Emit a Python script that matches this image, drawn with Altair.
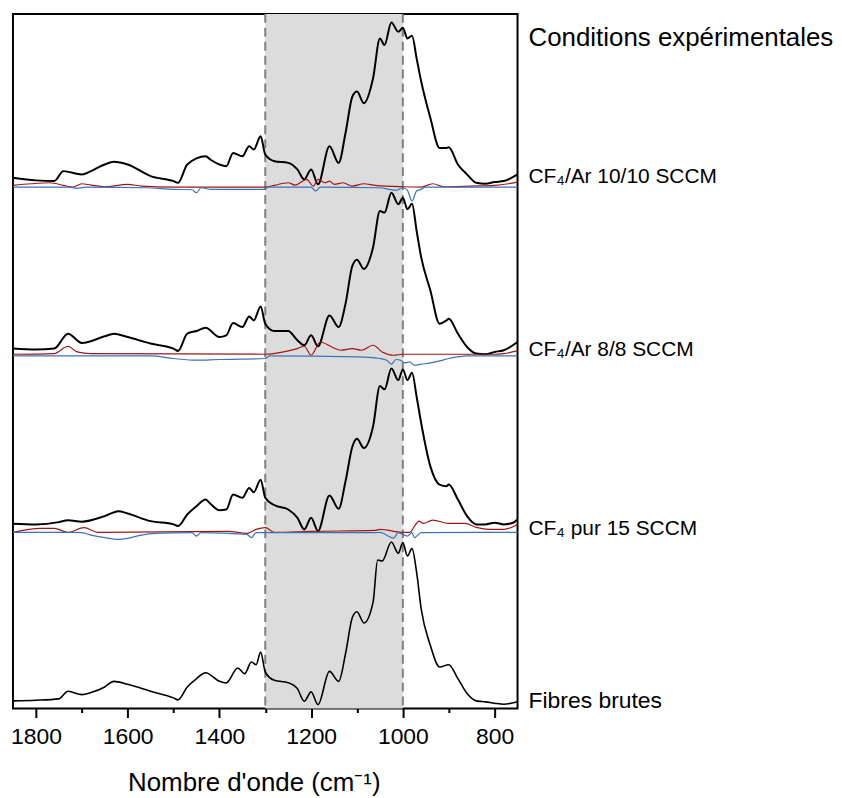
import altair as alt
import pandas as pd

# ---- Spectra (stacked, arbitrary absorbance units with offsets) ----
WN_S1 = [1850,1800,1760,1740,1700,1680,1650,1630,1600,1550,1500,1490,1470,1430,1420,1400,1385,1370,1350,1335,
         1325,1310,1300,1280,1250,1230,1215,1200,1185,1160,1140,1125,1110,1100,1085,1065,1050,1040,1025,1010,
         1000,990,980,970,960,940,920,905,900,880,860,840,820,800,780,750]
S1 = [533.3,530.7,530,540,536.7,540,546.7,549.3,546.7,535,530,528.3,546.7,555,551.7,546.7,545,558.3,555,565,
      561.7,575,556.7,550,548.3,541.7,531.7,541.7,526.7,565,548.3,578.3,615,620,608.3,633.3,673.3,666.7,689.3,680,
      684,673.3,676,653.3,630,593.3,563.3,563.3,564,546.7,536.7,528.3,527.3,529,530,536.7]

WN_S2 = [1850,1800,1760,1730,1700,1650,1630,1600,1550,1500,1490,1470,1450,1430,1400,1385,1370,1350,1335,1325,
         1310,1300,1280,1250,1230,1215,1200,1185,1160,1140,1125,1110,1100,1085,1065,1050,1040,1025,1010,1000,
         990,980,970,960,940,920,905,900,880,860,840,820,800,780,750]
S2 = [361.7,360.7,361.7,376.7,367.3,374,376.7,373.3,366.7,361.7,359.3,376.7,379.3,382.7,373.3,375,387.3,383.3,394,390,
      404,386.7,379.3,379.3,370,365,375,364,395,383.3,406.7,445,451,441.7,463.3,500,498.3,518.3,506.7,513.3,
      501.7,507.3,480,453.3,420,386.7,390,391.7,376.7,363.3,356.7,356,358.3,360,368.3]

WN_S3 = [1850,1800,1750,1730,1700,1650,1620,1600,1550,1500,1490,1470,1450,1430,1420,1400,1385,1370,1350,1335,
         1325,1310,1300,1280,1250,1230,1215,1200,1185,1160,1140,1125,1110,1100,1085,1065,1050,1040,1025,1010,
         1000,990,980,970,960,940,920,905,900,880,860,840,820,800,780,760,750]
S3 = [185.7,185,187.3,189.3,187.7,193.3,198.3,196,188.3,185,183.3,195,203.3,210,206,199.3,200,215,211.7,221.7,
      217.3,230,211.7,204.3,200,191.7,180,191.7,178.3,214,200.7,228.3,263.3,271,261.7,283.3,324,320.7,341.7,330,
      340.7,330,337.3,313.3,286.7,243.3,225,223.3,225,210,193.3,185,185,186.7,185,186.7,190]

WN_S4 = [1850,1800,1750,1730,1700,1680,1650,1630,1600,1550,1500,1490,1470,1450,1430,1400,1385,1360,1345,1330,
         1320,1310,1300,1280,1250,1230,1215,1200,1185,1160,1140,1125,1110,1100,1085,1065,1055,1045,1025,1010,
         1000,990,980,970,960,940,920,900,880,860,840,820,800,780,750]
S4 = [7.7,8.3,9.7,17.3,14,16,21.7,27.3,24.3,17.3,10.7,8.7,21.7,30,36,27.3,25.7,40.7,35,46.7,
      44,56.7,36.7,28.3,26,20,7.3,16.7,4,37.3,27.3,55,91.7,97.3,86,106.7,149.3,148.3,167.3,156,
      166.7,153.3,160.7,136.7,100,63.3,41.7,44,30,15,7.7,6.7,5.3,4.3,6.7]

# ---- Difference curves (red / blue) ----
WN_R1 = [1850,1810,1770,1740,1720,1700,1680,1650,1600,1570,1500,1300,1280,1250,1235,1210,1195,1185,1170,1160,
         1150,1130,1110,1085,1060,1000,960,935,910,850,800,770,750]
R1 = [525.7,527.3,528.3,525.7,524,527.3,526,524.3,526.7,525,524,524,525.7,528.3,526,531.7,525,531.7,528.3,530,
      526.7,528.3,525,527.3,525.7,524.3,524,527.3,524.3,525,525.7,527.3,529]
WN_B1 = [1850,1730,1710,1690,1560,1500,1460,1450,1440,1420,1300,1295,1200,1190,1180,1050,1030,1015,1000,990,
         980,970,960,950,750]
B1 = [524,524,522.7,524,523.3,521.7,521.3,518.3,523.3,521.7,521.7,524,524,520,524,523.3,521.7,520.7,523.3,520.7,
      510,520,521.7,524,524]

WN_R2 = [1850,1760,1730,1710,1680,1300,1260,1230,1215,1200,1180,1155,1135,1110,1090,1065,1045,1020,1000,800,
         780,750]
R2 = [356,356.7,364,358.3,356.7,356,358.3,361.7,364,355,368.3,363.3,360,361.7,360,365,358.3,355,356,356,
      356.7,359.3]
WN_B2 = [1850,1550,1500,1450,1400,1350,1300,1290,1100,1050,1035,1025,1015,1005,995,985,975,960,940,920,
         900,880,860,750]
B2 = [354.3,354.3,351.7,350,350.7,351,351.7,354.3,353.3,351.7,350,346,350.7,350,347.3,348.3,345,346,347.3,349.3,
      351.7,353.3,354.3,354.3]

WN_R3 = [1850,1790,1760,1730,1695,1665,1380,1340,1320,1300,1280,1200,1060,1050,1000,985,975,965,955,935,
         900,865,840,810,780,750]
R3 = [177,181,181,177,181.7,177,178,176,180,181.7,177,178,179,180,177,177,183,188.3,186,189.3,
      186,186,182,180,180,185]
WN_B3 = [1850,1720,1700,1680,1650,1620,1600,1570,1540,1460,1450,1440,1340,1330,1320,1060,1050,1020,1010,990,
         980,975,960,750]
B3 = [177,177,176.7,174.3,171.7,170,171,174.3,176,176.7,173.3,176.7,175,171.7,176.7,176.7,177,171.3,176.7,173.3,
      176.7,171.7,176.7,177]

# ---- Annotations ----
REGION = [1300, 1000]
LABELS = ["CF\u2084/Ar 10/10 SCCM", "CF\u2084/Ar 8/8 SCCM", "CF\u2084 pur 15 SCCM"]
LABEL_Y = [534, 360, 180]
RAW_LABEL = "Fibres brutes"
RAW_LABEL_Y = 8
HEADER = "Conditions exp\u00e9rimentales"
HEADER_Y = 674
LABEL_WN = 726
X_TICKS = [800, 900, 1000, 1100, 1200, 1300, 1400, 1500, 1600, 1700, 1800]

FONT = "Liberation Sans"


def frame(pairs):
    rows = []
    for name, wns, vals in pairs:
        for w, v in zip(wns, vals):
            rows.append({"wn": w, "val": v, "series": name})
    return pd.DataFrame(rows)


black_top = frame([("s1", WN_S1, S1), ("s2", WN_S2, S2), ("s3", WN_S3, S3)])
black_bot = frame([("s4", WN_S4, S4)])
red = frame([("r1", WN_R1, R1), ("r2", WN_R2, R2), ("r3", WN_R3, R3)])
blue = frame([("b1", WN_B1, B1), ("b2", WN_B2, B2), ("b3", WN_B3, B3)])

xscale = alt.Scale(domain=[750, 1850], reverse=True, nice=False, zero=False)
yscale = alt.Scale(domain=[0, 698], nice=False, zero=False)

xaxis = alt.Axis(
    values=X_TICKS,
    labelExpr="datum.value % 200 == 0 ? datum.label : ''",
    format="d",
    grid=False,
    domain=False,
    tickColor="black",
    tickWidth=2,
    tickSize={"condition": {"test": "datum.value % 200 == 0", "value": 9}, "value": 4},
    labelFontSize=23,
    labelColor="black",
    labelPadding=8,
    labelFont=FONT,
    title="Nombre d'onde (cm\u207b\u00b9)",
    titleFont=FONT,
    titleFontSize=26,
    titleFontWeight="normal",
    titleColor="black",
    titlePadding=21,
    titleX=242,
    titleAnchor="start",
    titleAlign="center",
)

band = alt.Chart(pd.DataFrame({"x1": [REGION[0]], "x2": [REGION[1]]})).mark_rect(
    color="#dcdcdc"
).encode(
    x=alt.X("x1:Q", scale=xscale, axis=xaxis),
    x2="x2:Q",
)

rules = alt.Chart(pd.DataFrame({"wn": REGION})).mark_rule(
    color="#808080", strokeWidth=2, strokeDash=[9, 5]
).encode(x=alt.X("wn:Q", scale=xscale))


def lines(df, color, width):
    return alt.Chart(df).mark_line(
        color=color, strokeWidth=width, strokeJoin="round", interpolate="monotone"
    ).encode(
        x=alt.X("wn:Q", scale=xscale),
        y=alt.Y("val:Q", scale=yscale, axis=None),
        detail="series:N",
    )


def text_layer(labels, vals, size):
    df = pd.DataFrame({"label": labels, "val": vals, "wn": [LABEL_WN] * len(labels)})
    return alt.Chart(df).mark_text(
        align="left", baseline="middle", fontSize=size, font=FONT, color="black"
    ).encode(
        x=alt.X("wn:Q", scale=xscale),
        y=alt.Y("val:Q", scale=yscale),
        text="label:N",
    )


chart = alt.layer(
    band,
    rules,
    lines(black_top, "black", 2),
    lines(black_bot, "black", 1.6),
    lines(red, "#a31515", 1.2),
    lines(blue, "#3b73b9", 1.2),
    text_layer(LABELS, LABEL_Y, 21),
    text_layer([RAW_LABEL], [RAW_LABEL_Y], 23),
    text_layer([HEADER], [HEADER_Y], 26),
).properties(
    width=507,
    height=698,
    padding={"left": 2, "top": 3, "right": 0, "bottom": 0},
).configure(
    font=FONT
).configure_view(
    stroke="black", strokeWidth=2
)

chart.save("out.html", embed_options={"renderer": "svg", "actions": False})
